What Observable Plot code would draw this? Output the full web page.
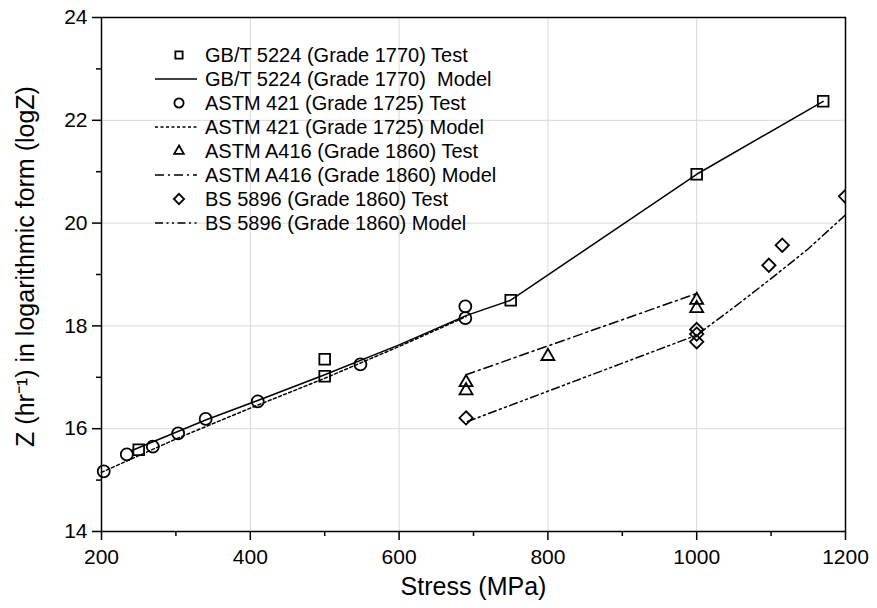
<!DOCTYPE html>
<html>
<head>
<meta charset="utf-8">
<script src="https://cdn.jsdelivr.net/npm/d3@7"></script>
<script src="https://cdn.jsdelivr.net/npm/@observablehq/plot@0.6"></script>
<style>
  html, body { margin: 0; padding: 0; background: #fff; }
  #wrap { position: relative; width: 877px; height: 608px; font-family: "Liberation Sans", Arial, sans-serif; }
  #legend { position: absolute; left: 150px; top: 43px; }
  .row { display: flex; align-items: center; height: 24px; }
  .row span { font-size: 20px; color: #000; white-space: pre; margin-left: 5px; line-height: 24px; }
</style>
</head>
<body>
<div id="wrap"><div id="legend"></div></div>
<script>
// ---- Data ----
const xTicks = [200, 400, 600, 800, 1000, 1200];
const xMinorTicks = [300, 500, 700, 900, 1100];
const yTicks = [14, 16, 18, 20, 22, 24];
const yMinorTicks = [15, 17, 19, 21, 23];
const xGridTicks = [400, 600, 800, 1000];
const yGridTicks = [16, 18, 20, 22];
const xLabel = "Stress (MPa)";
const yLabel = "Z (hr⁻¹) in logarithmic form (logZ)";

// GB/T 5224 (Grade 1770)
const gbTestX = [250, 500, 500, 750, 1000, 1170];
const gbTestY = [15.59, 17.02, 17.35, 18.5, 20.95, 22.37];
const gbModelX = [240, 340, 410, 500, 600, 690, 750, 1000, 1170];
const gbModelY = [15.57, 16.17, 16.55, 17.05, 17.63, 18.2, 18.5, 20.95, 22.37];

// ASTM 421 (Grade 1725)
const astmTestX = [203, 234, 269, 303, 340, 410, 548, 689, 689];
const astmTestY = [15.17, 15.5, 15.65, 15.91, 16.19, 16.53, 17.25, 18.38, 18.15];
const astmModelX = [200, 300, 400, 500, 600, 690];
const astmModelY = [15.15, 15.8, 16.4, 16.98, 17.6, 18.18];

// ASTM A416 (Grade 1860)
const a416TestX = [690, 690, 800, 1000, 1000];
const a416TestY = [16.9, 16.74, 17.41, 18.5, 18.34];
const a416ModelX = [690, 1000];
const a416ModelY = [17.05, 18.63];

// BS 5896 (Grade 1860)
const bsTestX = [690, 1000, 1000, 1000, 1097, 1115, 1200];
const bsTestY = [16.21, 17.93, 17.84, 17.69, 19.18, 19.57, 20.52];
const bsModelX = [692, 1000, 1050, 1100, 1150, 1200];
const bsModelY = [16.14, 17.82, 18.36, 18.92, 19.5, 20.16];

// Legend entries
const legendLabels = [
  "GB/T 5224 (Grade 1770) Test",
  "GB/T 5224 (Grade 1770)  Model",
  "ASTM 421 (Grade 1725) Test",
  "ASTM 421 (Grade 1725) Model",
  "ASTM A416 (Grade 1860) Test",
  "ASTM A416 (Grade 1860) Model",
  "BS 5896 (Grade 1860) Test",
  "BS 5896 (Grade 1860) Model"
];
const legendSymbols = ["square2", null, "circle", null, "triangle2", null, "diamond2", null];
const legendDashes = [null, "none", null, "3,2.5", null, "9,4,2,4", null, "8,3.5,2,3.5,2,3.5"];

// ---- Build ----
const zip = (X, Y) => X.map((x, i) => ({x, y: Y[i]}));
const lineStyle = {x: "x", y: "y", stroke: "black", strokeWidth: 1.5};
const dotStyle = {x: "x", y: "y", stroke: "black", strokeWidth: 1.8, fill: "none"};
const fmt = d => String(d);

const plot = Plot.plot({
  width: 877,
  height: 608,
  marginLeft: 101,
  marginRight: 32,
  marginTop: 17,
  marginBottom: 77,
  x: {domain: [200, 1200]},
  y: {domain: [14, 24]},
  style: {fontFamily: "'Liberation Sans', Arial, sans-serif", color: "black", background: "white", overflow: "visible"},
  marks: [
    Plot.gridX(xGridTicks, {stroke: "#d8d8d8", strokeOpacity: 1, strokeWidth: 1}),
    Plot.gridY(yGridTicks, {stroke: "#d8d8d8", strokeOpacity: 1, strokeWidth: 1}),
    Plot.axisX(xMinorTicks, {tickSize: 5, tickFormat: () => "", label: null, strokeWidth: 1.5}),
    Plot.axisX(xTicks, {tickSize: 9, tickPadding: 9, fontSize: 21, tickFormat: fmt, label: null, strokeWidth: 1.5}),
    Plot.axisY(yMinorTicks, {tickSize: 5, tickFormat: () => "", label: null, strokeWidth: 1.5}),
    Plot.axisY(yTicks, {tickSize: 9, tickPadding: 5, fontSize: 21, tickFormat: fmt, label: null, strokeWidth: 1.5}),
    Plot.line(zip(gbModelX, gbModelY), {...lineStyle}),
    Plot.line(zip(astmModelX, astmModelY), {...lineStyle, strokeDasharray: "3,2.5"}),
    Plot.line(zip(a416ModelX, a416ModelY), {...lineStyle, strokeDasharray: "9,4,2,4"}),
    Plot.line(zip(bsModelX, bsModelY), {...lineStyle, strokeDasharray: "8,3.5,2,3.5,2,3.5"}),
    Plot.dot(zip(gbTestX, gbTestY), {...dotStyle, symbol: "square2", r: 6.8}),
    Plot.dot(zip(astmTestX, astmTestY), {...dotStyle, symbol: "circle", r: 6}),
    Plot.dot(zip(a416TestX, a416TestY), {...dotStyle, symbol: "triangle2", r: 6.2}),
    Plot.dot(zip(bsTestX, bsTestY), {...dotStyle, symbol: "diamond2", r: 6, clip: true}),
    Plot.frame({stroke: "black", strokeWidth: 1.5}),
    Plot.text([xLabel], {frameAnchor: "bottom", lineAnchor: "top", dy: 46, fontSize: 25, fill: "black"}),
    Plot.text([yLabel], {frameAnchor: "left", textAnchor: "middle", rotate: -90, dx: -76, dy: -8, fontSize: 25, fill: "black"})
  ]
});
const wrap = document.getElementById("wrap");
plot.style.position = "absolute";
plot.style.left = "0";
plot.style.top = "0";
wrap.insertBefore(plot, wrap.firstChild);

// Legend (HTML overlay inside plot area)
const symMap = {square2: d3.symbolSquare2, circle: d3.symbolCircle, triangle2: d3.symbolTriangle2, diamond2: d3.symbolDiamond2};
const legend = d3.select("#legend");
legendLabels.forEach((label, i) => {
  const row = legend.append("div").attr("class", "row");
  const svg = row.append("svg").attr("width", 50).attr("height", 24);
  if (legendSymbols[i]) {
    const r = 4.6;
    svg.append("path")
      .attr("transform", "translate(29,12)")
      .attr("d", d3.symbol(symMap[legendSymbols[i]], Math.PI * r * r)())
      .attr("fill", "none").attr("stroke", "black").attr("stroke-width", 1.8);
  } else {
    svg.append("line").attr("x1", 5).attr("x2", 47).attr("y1", 12).attr("y2", 12)
      .attr("stroke", "black").attr("stroke-width", 1.5)
      .attr("stroke-dasharray", legendDashes[i]);
  }
  row.append("span").text(label);
});
</script>
</body>
</html>
